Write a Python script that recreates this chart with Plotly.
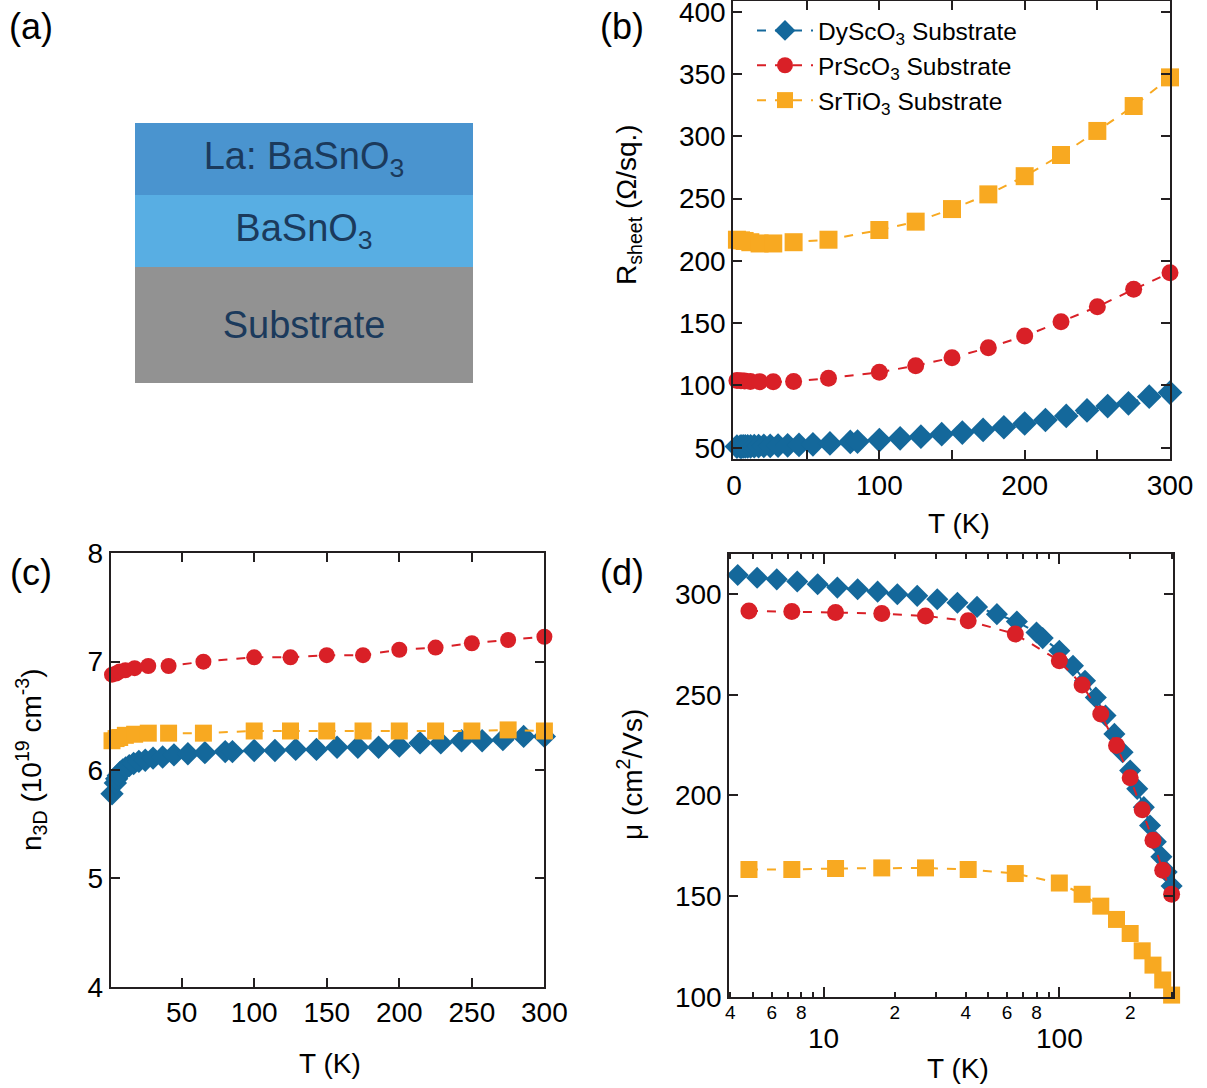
import math
import plotly.graph_objects as go

W, H = 1207, 1088
FONT = "Liberation Sans, Arial, Helvetica, sans-serif"
INK = "#231F20"

# ---------------- data ----------------
# temperatures (K)
T_dso = [2, 4.3, 5.2, 6.3, 7.7, 9.4, 11.4, 13.9, 16.9, 20.5, 24.9, 30.3, 36.9, 44.7,
         54.3, 66, 80, 85, 100, 114.3, 128.6, 142.9, 157.1, 171.4, 185.7, 200, 214.3,
         228.6, 242.9, 257.1, 271.4, 285.7, 300]
T_pso = [2, 4.8, 7.3, 11.2, 17.6, 27, 41, 65, 100, 125, 150, 175, 200, 225, 250, 275, 300]
T_sto = [2, 4.8, 7.3, 11.2, 17.6, 27, 41, 65, 100, 125, 150, 175, 200, 225, 250, 275, 300]

# sheet resistance (Ohm/sq.)
R_dso = [51.0, 51.0, 51.0, 51.1, 51.1, 51.2, 51.2, 51.3, 51.4, 51.5, 51.6, 51.8, 52.0, 52.3,
         52.8, 53.5, 54.7, 55.0, 56.2, 57.6, 58.9, 60.9, 62.2, 64.3, 66.5, 69.5, 72.3,
         75.6, 80.0, 83.5, 85.7, 91.0, 94.3]
R_pso = [104.0, 103.8, 103.6, 103.3, 103.1, 103.0, 103.2, 105.8, 110.6, 115.9, 122.3,
         130.3, 139.7, 151.2, 163.2, 177.2, 190.5]
R_sto = [217.0, 216.5, 216.0, 215.0, 214.0, 214.0, 215.0, 217.0, 224.8, 231.5, 241.6,
         253.4, 268.0, 285.0, 304.3, 324.3, 347.3]

# carrier density (1e19 cm^-3)
n_dso = [5.78, 5.88, 5.92, 5.95, 5.98, 6.00, 6.02, 6.04, 6.06, 6.08, 6.09, 6.11, 6.12, 6.14,
         6.15, 6.16, 6.17, 6.17, 6.18, 6.18, 6.19, 6.19, 6.21, 6.21, 6.21, 6.22, 6.25,
         6.25, 6.27, 6.27, 6.28, 6.31, 6.31]
n_pso = [6.88, 6.89, 6.91, 6.92, 6.94, 6.96, 6.96, 7.00, 7.04, 7.04, 7.06, 7.06, 7.11,
         7.13, 7.17, 7.20, 7.23]
n_sto = [6.27, 6.29, 6.30, 6.32, 6.33, 6.34, 6.34, 6.34, 6.36, 6.36, 6.36, 6.36, 6.36,
         6.36, 6.36, 6.37, 6.36]

# Hall mobility (cm^2/Vs), measured from the second temperature point on
mu_dso = [309.6, 308.2, 307.4, 306.3, 305.0, 303.3, 302.5, 301.3, 300.0, 299.2, 297.5,
          295.8, 293.7, 290.1, 286.4, 281.0, 278.2, 271.9, 264.5, 257.0, 248.7, 239.7,
          230.6, 221.5, 212.4, 203.3, 194.2, 185.1, 177.0, 169.5, 162.0, 155.0]
mu_pso = [291.7, 291.4, 290.9, 290.4, 289.2, 286.8, 280.2, 266.9, 254.9, 240.5, 224.8,
          208.8, 192.9, 177.7, 162.8, 150.9]
mu_sto = [163.2, 163.2, 163.7, 164.0, 164.0, 163.2, 161.2, 156.5, 150.9, 145.0, 138.4,
          131.4, 122.8, 115.7, 108.3, 100.8]

series_names = ["DyScO<sub>3</sub> Substrate", "PrScO<sub>3</sub> Substrate",
                "SrTiO<sub>3</sub> Substrate"]
series_colors = ["#14689B", "#D92027", "#F8A921"]
series_symbols = ["diamond", "circle", "square"]

# heterostructure schematic (bottom to top)
layer_names = ["Substrate", "BaSnO<sub>3</sub>", "La: BaSnO<sub>3</sub>"]
layer_thickness = [1.6, 1.0, 1.0]
layer_colors = ["#929292", "#58AEE3", "#4A94CF"]

# log-axis tick labels for the mobility panel
mu_tick_vals = [4, 5, 6, 7, 8, 9, 20, 30, 40, 50, 60, 70, 80, 90, 200, 300]
mu_tick_text = ["4", "", "6", "", "8", "", "2", "", "4", "", "6", "", "8", "", "2", ""]
mu_decades = [10, 100]

# ---------------- helpers ----------------
def px_x(p):
    return p / W


def px_y(p):
    return 1 - p / H


fig = go.Figure()

T_sets = [T_dso, T_pso, T_sto]
R_sets = [R_dso, R_pso, R_sto]
n_sets = [n_dso, n_pso, n_sto]
mu_sets = [mu_dso, mu_pso, mu_sto]
sizes_b = [19, 17, 18]
sizes_c = [18, 16, 17]
sizes_d = [17, 17, 17]

for i in range(3):
    line = dict(color=series_colors[i], width=2, dash="dash")
    fig.add_trace(go.Scatter(
        x=T_sets[i], y=R_sets[i], mode="lines+markers", name=series_names[i],
        line=line, cliponaxis=False,
        marker=dict(symbol=series_symbols[i], size=sizes_b[i], color=series_colors[i]),
        xaxis="x", yaxis="y", legendgroup=str(i)))
for i in range(3):
    fig.add_trace(go.Scatter(
        x=T_sets[i], y=n_sets[i], mode="lines+markers", showlegend=False,
        line=dict(color=series_colors[i], width=2, dash="dash"), cliponaxis=False,
        marker=dict(symbol=series_symbols[i], size=sizes_c[i], color=series_colors[i]),
        xaxis="x2", yaxis="y2"))
for i in range(3):
    fig.add_trace(go.Scatter(
        x=T_sets[i][1:], y=mu_sets[i], mode="lines+markers", showlegend=False,
        line=dict(color=series_colors[i], width=2, dash="dash"), cliponaxis=False,
        marker=dict(symbol=series_symbols[i], size=sizes_d[i], color=series_colors[i]),
        xaxis="x3", yaxis="y3"))

# schematic stack
for name, t, c in zip(layer_names, layer_thickness, layer_colors):
    fig.add_trace(go.Bar(
        x=[0], y=[t], width=1, marker=dict(color=c, line=dict(width=0)),
        text=[name], textposition="inside", insidetextanchor="middle",
        textangle=0, constraintext="none",
        textfont=dict(size=38, color="#1B3A5C", family=FONT),
        xaxis="x5", yaxis="y5", showlegend=False, hoverinfo="skip"))

axis_style = dict(showline=True, linecolor=INK, linewidth=2, mirror="allticks",
                  ticks="inside", ticklen=9, tickwidth=2, tickcolor=INK,
                  showgrid=False, zeroline=False, automargin=False,
                  ticklabeloverflow="allow",
                  tickfont=dict(size=28, color="black", family=FONT))

fig.update_layout(
    width=W, height=H, margin=dict(l=0, r=0, t=0, b=0, autoexpand=False),
    paper_bgcolor="white", plot_bgcolor="white",
    font=dict(family=FONT, color="black"),
    barmode="stack", bargap=0,
    showlegend=True,
    legend=dict(x=px_x(752), y=px_y(8), xanchor="left", yanchor="top",
                bgcolor="rgba(0,0,0,0)", font=dict(size=24.5, family=FONT),
                itemwidth=56, tracegroupgap=0),
    xaxis=dict(axis_style, domain=[px_x(733.3), px_x(1170)], range=[-0.5, 300],
               tickmode="array", tickvals=[0, 50, 100, 150, 200, 250, 300],
               ticktext=["0", "", "100", "", "200", "", "300"], anchor="y"),
    yaxis=dict(axis_style, domain=[px_y(459), px_y(1)], range=[41, 408.6],
               tickmode="array", tickvals=[50, 100, 150, 200, 250, 300, 350, 400],
               anchor="x"),
    xaxis2=dict(axis_style, domain=[px_x(110.7), px_x(544.4)], range=[1.1, 300],
                tickmode="array", tickvals=[50, 100, 150, 200, 250, 300], anchor="y2"),
    yaxis2=dict(axis_style, domain=[px_y(986.7), px_y(553.3)], range=[4, 8],
                tickmode="array", tickvals=[4, 5, 6, 7, 8], anchor="x2"),
    xaxis3=dict(axis_style, type="log", domain=[px_x(729.3), px_x(1173.3)],
                range=[math.log10(3.96), math.log10(305)],
                tickmode="array", tickvals=mu_tick_vals, ticktext=mu_tick_text,
                ticklen=5, tickfont=dict(size=19, color="black", family=FONT),
                ticklabelstandoff=-3,
                minor=dict(tickmode="array", tickvals=mu_decades, ticks="inside",
                           ticklen=10, tickwidth=2, tickcolor=INK),
                anchor="y3"),
    yaxis3=dict(axis_style, domain=[px_y(996.7), px_y(554)], range=[100, 320],
                tickmode="array", tickvals=[100, 150, 200, 250, 300], anchor="x3"),
    xaxis5=dict(domain=[px_x(135), px_x(473)], range=[-0.5, 0.5], visible=False,
                anchor="y5", fixedrange=True, automargin=False),
    yaxis5=dict(domain=[px_y(383), px_y(123)], range=[0, sum(layer_thickness)],
                visible=False, anchor="x5", fixedrange=True, automargin=False),
)

ann = []


def label(text, x, y, size=28, angle=0, xref="paper"):
    ann.append(dict(text=text, x=x, y=y, xref=xref, yref="paper", showarrow=False,
                    xanchor="center", yanchor="middle", textangle=angle,
                    font=dict(size=size, family=FONT, color="black")))


# panel letters
label("(a)", px_x(31), px_y(26), 36)
label("(b)", px_x(622), px_y(26), 36)
label("(c)", px_x(31), px_y(572), 36)
label("(d)", px_x(622), px_y(572), 36)

# axis titles
label("T (K)", px_x(959), px_y(523))
label("T (K)", px_x(330.5), px_y(1063))
label("T (K)", px_x(957.5), px_y(1068))
label("R<sub>sheet</sub> (Ω/sq.)", px_x(628), px_y(205), angle=-90)
label("n<sub>3D</sub> (10<sup>19</sup> cm<sup>-3</sup>)", px_x(31), px_y(760), angle=-90)
label("μ (cm<sup>2</sup>/Vs)", px_x(630), px_y(775), angle=-90)

# decade labels on the logarithmic temperature axis
for d in mu_decades:
    label(str(d), math.log10(d), px_y(1038.3), 28, xref="x3")

fig.update_layout(annotations=ann)

fig.write_html("out.html")
